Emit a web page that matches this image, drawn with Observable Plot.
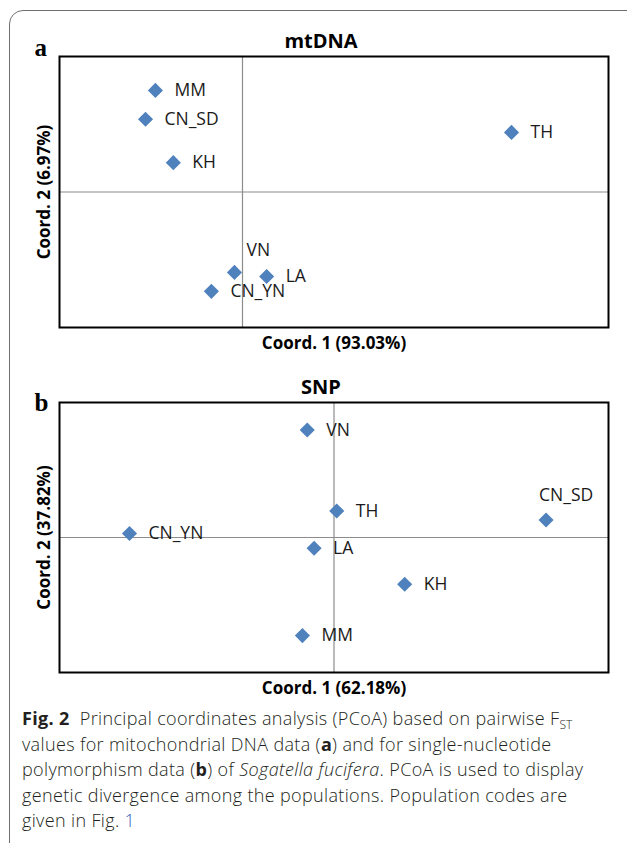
<!DOCTYPE html>
<html>
<head>
<meta charset="utf-8">
<script src="https://cdn.jsdelivr.net/npm/d3@7"></script>
<script src="https://cdn.jsdelivr.net/npm/@observablehq/plot@0.6"></script>
<style>
  html, body { margin: 0; padding: 0; background: #fff; }
  #page { position: relative; width: 627px; height: 843px; overflow: hidden; background: #fff; }
  #box { position: absolute; left: 9px; top: 10px; width: 660px; height: 900px;
         border: 1.3px solid #6f6f6f; border-radius: 14px; box-sizing: border-box; }
  .panel { position: absolute; left: 0; }
  #caption { position: absolute; left: 22px; top: 706px; font-family: "Open Sans", "Noto Sans", sans-serif;
             font-weight: 300; font-size: 18px; line-height: 25.6px; color: #231f20; letter-spacing: 0.35px; }
  #caption div { white-space: nowrap; height: 25.6px; }
  #caption sub { font-size: 12px; vertical-align: baseline; position: relative; top: 4px; line-height: 0; letter-spacing: 0; }
</style>
</head>
<body>
<div id="page">
  <div id="box"></div>
  <div id="panelA" class="panel" style="top:0px"></div>
  <div id="panelB" class="panel" style="top:360px"></div>
  <div id="caption">
    <div><b style="font-weight:700">Fig. 2</b>&nbsp; Principal coordinates analysis (PCoA) based on pairwise F<sub>ST</sub></div>
    <div>values for mitochondrial DNA data (<b style="font-weight:700">a</b>) and for single-nucleotide</div>
    <div>polymorphism data (<b style="font-weight:700">b</b>) of <i>Sogatella fucifera</i>. PCoA is used to display</div>
    <div>genetic divergence among the populations. Population codes are</div>
    <div>given in Fig. <span style="color:#3b5fc0">1</span></div>
  </div>
</div>
<script>
// ---- Panel a: mtDNA ----
const popsA   = ["MM", "CN_SD", "KH", "TH", "VN", "LA", "CN_YN"];
const coord1A = [-0.238, -0.265, -0.189, 0.735, -0.022, 0.066, -0.085];
const coord2A = [0.225, 0.161, 0.065, 0.132, -0.178, -0.187, -0.220];
// ---- Panel b: SNP ----
const popsB   = ["VN", "CN_YN", "LA", "MM", "TH", "CN_SD", "KH"];
const coord1B = [-0.039, -0.298, -0.029, -0.046, 0.004, 0.309, 0.103];
const coord2B = [0.239, 0.009, -0.024, -0.218, 0.059, 0.039, -0.104];

const panelLetters = ["a", "b"];
const panelTitles  = ["mtDNA", "SNP"];
const xLabels = ["Coord. 1 (93.03%)", "Coord. 1 (62.18%)"];
const yLabels = ["Coord. 2 (6.97%)", "Coord. 2 (37.82%)"];

const BLUE = "#4f81bd";
const FONT = "'Open Sans', 'Noto Sans', sans-serif";

function panel({pops, c1, c2, xDomain, yDomain, height, marginTop, marginBottom,
                letter, letterDy, title, xLabel, yLabel, special}) {
  const data = pops.map((p, i) => ({pop: p, x: c1[i], y: c2[i]}));
  const normal = data.filter(d => !(d.pop in special));
  const lbl = {textAnchor: "start", lineAnchor: "middle", fontSize: 17.5, fill: "#1a1a1a", fontFamily: FONT};
  const marks = [
    Plot.ruleX([0], {stroke: "#8c8c8c", strokeWidth: 1.2}),
    Plot.ruleY([0], {stroke: "#8c8c8c", strokeWidth: 1.2}),
    Plot.frame({stroke: "#000", strokeWidth: 2}),
    Plot.dot(data, {x: "x", y: "y", symbol: "diamond2", r: 6.8, fill: BLUE, stroke: "none"}),
    Plot.text(normal, {x: "x", y: "y", text: "pop", dx: 19, ...lbl})
  ];
  for (const [name, off] of Object.entries(special)) {
    marks.push(Plot.text(data.filter(d => d.pop === name), {x: "x", y: "y", text: "pop",
      dx: off[0], dy: off[1], ...lbl}));
  }
  const common = {textAnchor: "middle", lineAnchor: "middle", fontWeight: "bold", fill: "#000", fontFamily: FONT};
  marks.push(
    Plot.text([title], {frameAnchor: "top", dx: -13, dy: -14.5, fontSize: 20, ...common}),
    Plot.text([xLabel], {frameAnchor: "bottom", dy: 16, fontSize: 17, ...common}),
    Plot.text([yLabel], {frameAnchor: "left", dx: -14.5, rotate: -90, fontSize: 17, ...common}),
    Plot.text([letter], {frameAnchor: "top-left", dx: -25, dy: letterDy, textAnchor: "start",
                         lineAnchor: "middle", fontSize: 25, fontWeight: "bold", fill: "#000",
                         fontFamily: "'Liberation Serif', 'DejaVu Serif', serif"})
  );
  return Plot.plot({
    width: 627, height,
    marginLeft: 59, marginRight: 19, marginTop, marginBottom,
    x: {domain: xDomain, axis: null},
    y: {domain: yDomain, axis: null},
    style: {background: "transparent", overflow: "visible"},
    marks
  });
}

document.getElementById("panelA").appendChild(panel({
  pops: popsA, c1: coord1A, c2: coord2A, xDomain: [-0.5, 1.0], yDomain: [-0.3, 0.3],
  height: 360, marginTop: 56, marginBottom: 33, letter: panelLetters[0], letterDy: -9,
  title: panelTitles[0], xLabel: xLabels[0], yLabel: yLabels[0],
  special: {"VN": [12, -22]}
}));
document.getElementById("panelB").appendChild(panel({
  pops: popsB, c1: coord1B, c2: coord2B, xDomain: [-0.4, 0.4], yDomain: [-0.3, 0.3],
  height: 340, marginTop: 42, marginBottom: 28, letter: panelLetters[1], letterDy: 0,
  title: panelTitles[1], xLabel: xLabels[1], yLabel: yLabels[1],
  special: {"CN_SD": [-7, -25]}
}));
</script>
</body>
</html>
